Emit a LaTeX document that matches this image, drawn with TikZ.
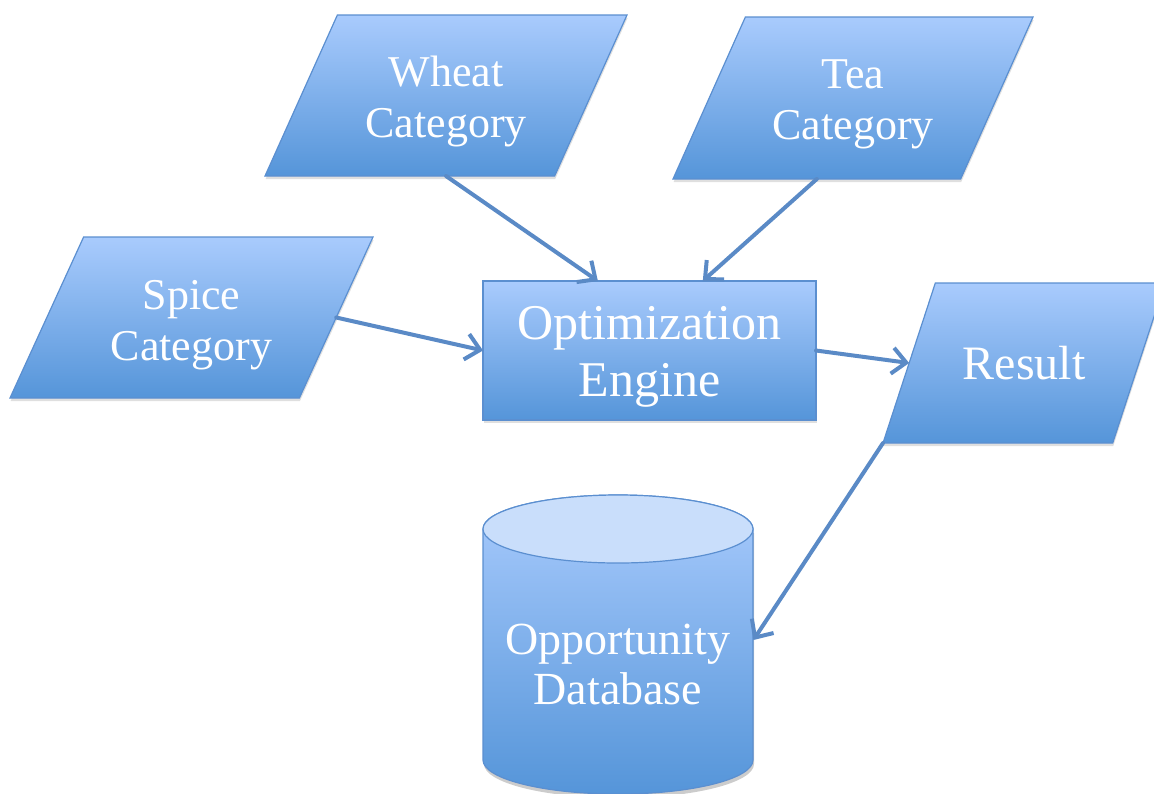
\documentclass[tikz,border=0pt]{standalone}
\usepackage{fontspec}
\setmainfont{Liberation Serif}
\usetikzlibrary{arrows.meta,calc,shapes.geometric,shadows}
\definecolor{boxtop}{HTML}{A9CBFD}
\definecolor{boxbot}{HTML}{5595D9}
\definecolor{boxline}{HTML}{5B8FD0}
\definecolor{flowcol}{HTML}{5A8AC6}
\definecolor{captop}{HTML}{C9DEFB}
\newcommand{\tall}[1]{\rule{0pt}{#1}}
\tikzset{>={Straight Barb[length=7pt,width=13pt]},every node/.style={text=white,align=center},
  box/.style={draw=boxline,line width=.6pt,top color=boxtop,bottom color=boxbot,outer sep=0pt,
    drop shadow={shadow xshift=.3pt,shadow yshift=-1.5pt,opacity=.25}},
  cat/.style={box,trapezium,trapezium stretches body,trapezium left angle=58,trapezium right angle=122,
    font=\fontsize{22}{25.5}\selectfont},
  engine/.style={box,rectangle,font=\fontsize{25}{28.5}\selectfont},
  dbtxt/.style={minimum width=135pt,font=\fontsize{23}{25}\selectfont},
  flow/.style={draw=flowcol,line width=2pt,->,line cap=round}}

\begin{document}
\begin{tikzpicture}[x=.5pt,y=-.5pt]
\useasboundingbox (0,0) rectangle (1154,793);
% categories and engine
\node[cat,minimum width=181pt,minimum height=80.5pt] (wheat) at (446,95.5) {\tall{21pt}Wheat\\Category};
\node[cat,minimum width=180pt,minimum height=81pt] (tea) at (853,98) {\tall{21pt}Tea\\Category};
\node[cat,minimum width=181.5pt,minimum height=80.5pt] (spice) at (191.5,317.5) {\tall{22pt}Spice\\Category};
\node[engine,minimum width=166.5pt,minimum height=69.5pt] (eng) at (649.5,350.5) {\tall{23pt}Optimization\\Engine};
\node[cat,trapezium left angle=42,trapezium right angle=138,minimum width=141pt,minimum height=80pt,
  font=\fontsize{24}{27}\selectfont] (res) at (1024,363) {Result};
% database cylinder
\fill[black,opacity=.2] (484,533)--(484,764) arc[start angle=180,end angle=0,x radius=135,y radius=34]--(754,533)--cycle;
\shadedraw[top color=boxtop,bottom color=boxbot,draw=boxline,line width=.6pt] (483,529)--(483,760)
  arc[start angle=180,end angle=0,x radius=135,y radius=34]--(753,529)
  arc[start angle=0,end angle=-180,x radius=135,y radius=34]--cycle;
\filldraw[fill=captop,draw=boxline,line width=.6pt] (618,529) ellipse[x radius=135,y radius=34];
\node[dbtxt] (db) at (618,664) {Opportunity\\Database};
% flows
\draw[flow] (wheat.south)--($(eng.north west)!.345!(eng.north east)$);
\draw[flow] ($(tea.bottom left corner)!.5!(tea.bottom right corner)$)--($(eng.north west)!.66!(eng.north east)$);
\draw[flow] (spice.east)--(eng.west);
\draw[flow] (eng.east)--(res.west);
\draw[flow] (res.bottom left corner)--([yshift=12pt]db.east);
\end{tikzpicture}
\end{document}
